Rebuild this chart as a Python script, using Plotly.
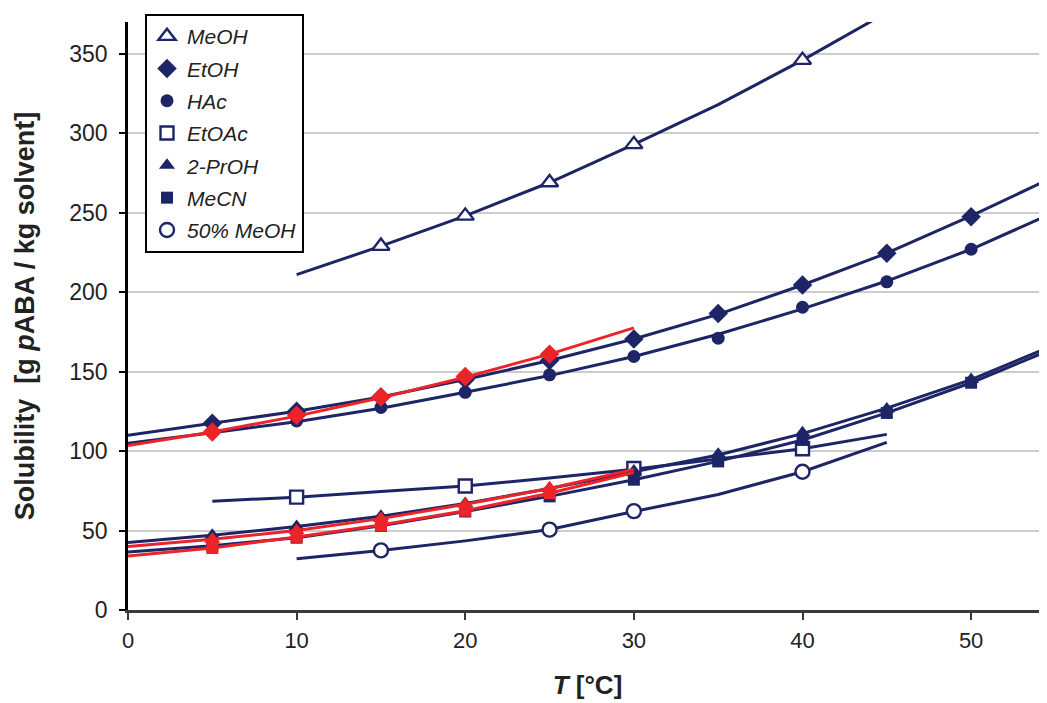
import plotly.graph_objects as go

NAVY = "#1d2566"
RED = "#ec2328"

# ---- data ----
T_full = [0, 5, 10, 15, 20, 25, 30, 35, 40, 45, 50, 55]
T_pts = [5, 10, 15, 20, 25, 30, 35, 40, 45, 50]

# MeOH
meoh_line_T = [10, 15, 20, 25, 30, 35, 40, 45]
meoh_line = [211, 229, 248, 269, 293, 318, 346, 376]
meoh_pts_T = [15, 20, 25, 30, 40]
meoh_pts = [229, 248, 269, 293, 346]

# EtOH
etoh_line = [110, 117.5, 125, 134, 145, 157, 170.5, 186, 204.5, 224.5, 248, 273]
etoh_pts = [117.5, 125, 134, 145, 157, 170.5, 186.5, 204.5, 224.5, 247.5]

# HAc
hac_line = [105, 111.5, 118.5, 127, 137, 147.5, 159.5, 173.5, 189.5, 207, 227, 250.5]
hac_pts = [112, 119, 127.5, 137, 148, 159.5, 171, 190.5, 206.5, 227]

# EtOAc
etoac_line_T = [5, 10, 15, 20, 25, 30, 35, 40, 45]
etoac_line = [68.5, 71, 74.5, 78, 83, 88.5, 95, 101.5, 110.5]
etoac_pts_T = [10, 20, 30, 40]
etoac_pts = [71, 78, 89, 101.5]

# 2-PrOH
proh_line = [42.5, 47, 52.5, 59, 67, 76.5, 87, 97.5, 111, 127, 145, 167]
proh_pts = [47, 52.5, 59, 67, 76.5, 87.5, 98, 111.5, 126.5, 145]

# MeCN
mecn_line = [36.5, 40.5, 45.5, 53, 62, 71.5, 82, 93.5, 107, 124, 143, 165]
mecn_pts = [40.5, 45.5, 53, 62, 71.5, 82, 93.5, 107, 124, 143]

# 50% MeOH
meoh50_line_T = [10, 15, 20, 25, 30, 35, 40, 45]
meoh50_line = [32.3, 37.5, 43.5, 50.6, 62, 72.7, 87, 105.5]
meoh50_pts_T = [15, 25, 30, 40]
meoh50_pts = [37.5, 50.6, 62.2, 87]

# red series (second data set)
red_T_line = [0, 5, 10, 15, 20, 25, 30]
red_T_pts = [5, 10, 15, 20, 25]
red_etoh_line = [103.5, 112, 122, 133.5, 146.5, 161, 177.5]
red_etoh_pts = [112, 122.5, 134, 147, 161]
red_proh_line = [40, 44.5, 50, 57.5, 66.5, 76.5, 88.5]
red_proh_pts = [44.5, 50, 57.5, 66.5, 77]
red_mecn_line = [34, 39, 46, 53.5, 62.5, 73.5, 86.5]
red_mecn_pts = [39, 46, 53.5, 62.5, 73.5]

fig = go.Figure()

LW = 3


def line(x, y, color):
    fig.add_trace(go.Scatter(x=x, y=y, mode="lines", line=dict(color=color, width=LW),
                             showlegend=False, hoverinfo="skip"))


def pts(x, y, name, symbol, size, color, fill=None, show=True, group=None):
    fig.add_trace(go.Scatter(
        x=x, y=y, mode="markers", name=name, showlegend=show, legendgroup=group,
        marker=dict(symbol=symbol, size=size,
                    color=fill if fill else color,
                    line=dict(color=color, width=2.4 if fill else 0)),
    ))


# navy lines
line(meoh_line_T, meoh_line, NAVY)
line(T_full, etoh_line, NAVY)
line(T_full, hac_line, NAVY)
line(etoac_line_T, etoac_line, NAVY)
line(T_full, proh_line, NAVY)
line(T_full, mecn_line, NAVY)
line(meoh50_line_T, meoh50_line, NAVY)

# navy markers
pts(meoh_pts_T, meoh_pts, "MeOH", "triangle-up", 15, NAVY, fill="white", group="a")
pts(T_pts, etoh_pts, "EtOH", "diamond", 15, NAVY, group="b")
pts(T_pts, hac_pts, "HAc", "circle", 13, NAVY, group="c")
pts(etoac_pts_T, etoac_pts, "EtOAc", "square", 13, NAVY, fill="white", group="d")
pts(T_pts, proh_pts, "2-PrOH", "triangle-up", 14, NAVY, group="e")
pts(T_pts, mecn_pts, "MeCN", "square", 12, NAVY, group="f")
pts(meoh50_pts_T, meoh50_pts, "50% MeOH", "circle", 14, NAVY, fill="white", group="g")

# red series
line(red_T_line, red_etoh_line, RED)
line(red_T_line, red_proh_line, RED)
line(red_T_line, red_mecn_line, RED)
pts(red_T_pts, red_etoh_pts, "EtOH (2)", "diamond", 15, RED, show=False)
pts(red_T_pts, red_proh_pts, "2-PrOH (2)", "triangle-up", 14, RED, show=False)
pts(red_T_pts, red_mecn_pts, "MeCN (2)", "square", 12, RED, show=False)

FONT = "Liberation Sans, Arial, sans-serif"

# the page body adds an 8 px offset, margins compensate for it
fig.update_layout(
    width=1047, height=703,
    margin=dict(l=120, r=8, t=14, b=101, autoexpand=False),
    paper_bgcolor="white", plot_bgcolor="white",
    font=dict(family=FONT, color="#222222"),
    legend=dict(
        x=0.0185, y=1.0136, xanchor="left", yanchor="top",
        bgcolor="white", bordercolor="black", borderwidth=2,
        font=dict(family=FONT, size=21, color="#222222", style="italic"),
        traceorder="grouped", tracegroupgap=2,
        itemwidth=30,
    ),
    xaxis=dict(
        range=[0, 54.5], tickvals=[0, 10, 20, 30, 40, 50],
        showgrid=False, zeroline=False, automargin=False,
        showline=True, linecolor="#3a3a3a", linewidth=3,
        ticks="outside", ticklen=7, tickwidth=2, tickcolor="#3a3a3a",
        tickfont=dict(size=22, color="#222222"), ticklabelstandoff=2,
        title=dict(text="<b><i>T</i> [°C]</b>", font=dict(size=26, color="#222222"), standoff=24),
    ),
    yaxis=dict(
        range=[0, 370], tickvals=[0, 50, 100, 150, 200, 250, 300, 350],
        showgrid=True, gridcolor="#cccccc", gridwidth=1.5,
        zeroline=False, automargin=False,
        showline=True, linecolor="black", linewidth=2.5,
        ticks="outside", ticklen=6, tickwidth=2, tickcolor="black",
        tickfont=dict(size=23, color="#222222"), ticklabelstandoff=7,
        title=dict(text="<b>Solubility  [g <i>p</i>ABA / kg solvent]</b>",
                   font=dict(size=27, color="#222222"), standoff=27),
    ),
)

fig.write_html("out.html")
